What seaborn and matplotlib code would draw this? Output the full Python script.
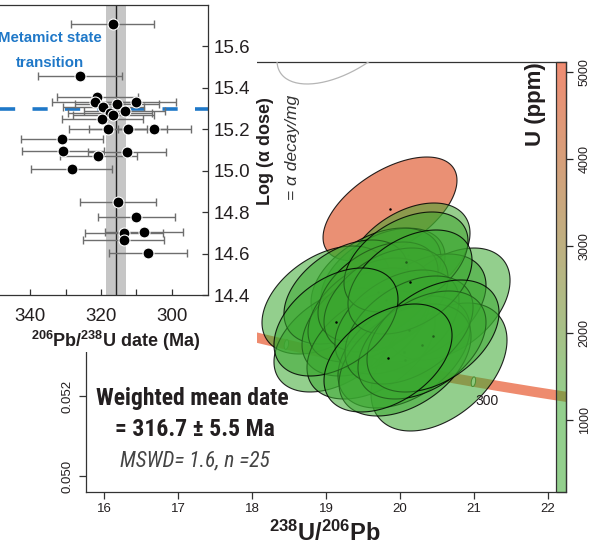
import numpy as np
import pandas as pd
import matplotlib
matplotlib.use("Agg")
import matplotlib.pyplot as plt
import seaborn as sns
from matplotlib.colors import LinearSegmentedColormap, Normalize
from matplotlib.cm import ScalarMappable
from matplotlib.patches import Rectangle
from matplotlib import font_manager

# ---------------- data: inset (206Pb/238U date vs log alpha dose) ----------------
inset_date = [316.7, 326.0, 321.0, 321.8, 310.2, 315.5, 319.3, 317.5, 313.3, 319.6,
              318.1, 312.4, 305.0, 331.0, 330.7, 312.6, 320.7, 328.3, 315.2, 310.0,
              313.6, 307.8, 313.6, 306.7, 316.5]
inset_dose = [15.71, 15.455, 15.356, 15.333, 15.333, 15.324, 15.308, 15.28, 15.29, 15.25,
              15.20, 15.20, 15.20, 15.155, 15.094, 15.09, 15.07, 15.006, 14.85, 14.778,
              14.70, 14.705, 14.665, 14.604, 15.27]
inset_err = [11.7, 11.9, 11.5, 12.0, 11.5, 11.8, 11.5, 11.8, 11.5, 11.5,
             11.0, 11.0, 10.3, 11.5, 11.5, 11.0, 11.0, 11.5, 10.7, 10.8,
             11.0, 11.0, 11.5, 11.0, 11.5]
mean_date = 315.8
mean_band = 2.9
transition_dose = 15.3
inset_xticks = [340, 330, 320, 310, 300]
inset_xticklabels = ["340", "", "320", "", "300"]
inset_yticks = [14.4, 14.6, 14.8, 15.0, 15.2, 15.4, 15.6]

# ---------------- data: Tera-Wasserburg ellipses ----------------
ell_x = [19.865, 20.108, 19.770, 19.676, 20.649, 20.284, 19.000, 19.135, 20.527, 19.270,
         19.541, 19.595, 19.608, 19.703, 19.811, 19.959, 20.054, 20.068, 20.081, 20.122,
         20.135, 20.297, 20.446, 19.135, 19.838]
ell_y = [0.056675, 0.055525, 0.054975, 0.054900, 0.054300, 0.054200, 0.054400, 0.053400,
         0.052725, 0.054600, 0.053850, 0.054150, 0.053275, 0.054600, 0.054400, 0.053850,
         0.053100, 0.052900, 0.055350, 0.053650, 0.054850, 0.053275, 0.053500, 0.053850,
         0.052950]
ell_sx = [0.905, 0.838, 0.838, 0.878, 0.838, 0.878, 0.865, 0.838, 0.919, 0.838,
          0.865, 0.838, 0.865, 0.811, 0.838, 0.838, 0.892, 0.892, 0.838, 0.865,
          0.838, 0.865, 0.892, 0.838, 0.865]
ell_sy = [0.00130, 0.00130, 0.00122, 0.00130, 0.00140, 0.00135, 0.00135, 0.00130,
          0.00160, 0.00130, 0.00135, 0.00130, 0.00135, 0.00125, 0.00130, 0.00130,
          0.00140, 0.00140, 0.00125, 0.00135, 0.00130, 0.00135, 0.00140, 0.00135,
          0.00135]
ell_rho = [0.55] + [0.42] * 24
ell_u = [4850, 1300, 1100, 1200, 600, 900, 700, 800, 350, 1000,
         1100, 1200, 900, 1400, 1200, 1000, 700, 600, 1300, 900,
         1100, 800, 600, 800, 700]
# omitted analysis (unfilled, grey)
omit_x, omit_y, omit_sx, omit_sy, omit_rho = 19.243, 0.0611, 0.905, 0.00130, 0.55

u_min, u_max = 176, 5115
cbar_ticks = [1000, 2000, 3000, 4000, 5000]
main_xticks = [16, 17, 18, 19, 20, 21, 22]
main_yticks = [0.050, 0.052]

# concordia (decay constants)
LAMBDA238 = 1.55125e-10
LAMBDA235 = 9.8485e-10
U238_U235 = 137.818
conc_ages_ma = np.arange(260, 391, 1.0)
marker_ages_ma = [300, 320, 340]
labelled_age = 300

# ---------------- fonts ----------------
sns.set_theme(style="ticks")
available = {f.name for f in font_manager.fontManager.ttflist}


def pick(*names):
    for n in names:
        if n in available:
            return n
    return "DejaVu Sans"


SANS = pick("Liberation Sans", "Arimo", "DejaVu Sans")
NARROW = pick("Liberation Sans Narrow", "Roboto Condensed", "Open Sans Condensed")
narrow_scale = 1.0
if NARROW == "DejaVu Sans":
    NARROW = SANS
    narrow_scale = 0.80
plt.rcParams["font.family"] = [SANS, "DejaVu Sans"]
plt.rcParams["mathtext.fontset"] = "custom"
plt.rcParams["mathtext.rm"] = SANS
plt.rcParams["mathtext.bf"] = SANS + ":bold"
plt.rcParams["mathtext.it"] = SANS + ":italic"
TXT = "#231f20"

W, H = 603, 549
fig = plt.figure(figsize=(W / 100, H / 100), dpi=100)
fig.patch.set_facecolor("white")


def box(x0, y0, x1, y1):
    return [x0 / W, 1 - y1 / H, (x1 - x0) / W, (y1 - y0) / H]


def ellipse_xy(x0, y0, sx, sy, rho, n=160):
    t = np.linspace(0, 2 * np.pi, n)
    return x0 + sx * np.cos(t), y0 + sy * (rho * np.cos(t) + np.sqrt(1 - rho ** 2) * np.sin(t))


# colour map (with transparency): green at low U, salmon at high U
c_lo = (58 / 255, 168 / 255, 48 / 255, 0.55)
c_hi = (228 / 255, 46 / 255, 0 / 255, 0.55)
cmap = LinearSegmentedColormap.from_list("u_ppm", [(0.0, c_lo), (0.2, c_lo), (1.0, c_hi)])
norm = Normalize(vmin=u_min, vmax=u_max)

# ---------------- main concordia axes ----------------
ax = fig.add_axes(box(86, 62, 566, 491.7))
ax.set_facecolor("white")
ax.set_xlim(15.757, 22.243)
ax.set_ylim(0.0496075, 0.06035)

t = conc_ages_ma * 1e6
conc = pd.DataFrame({
    "x": 1.0 / (np.exp(LAMBDA238 * t) - 1.0),
    "y": (np.exp(LAMBDA235 * t) - 1.0) / (np.exp(LAMBDA238 * t) - 1.0) / U238_U235,
})
sns.lineplot(data=conc, x="x", y="y", ax=ax, color="#ee8b6e", lw=7.3, sort=False,
             solid_capstyle="butt", zorder=2, legend=False)

for age in marker_ages_ma:
    tt = age * 1e6
    mx = 1.0 / (np.exp(LAMBDA238 * tt) - 1.0)
    my = (np.exp(LAMBDA235 * tt) - 1.0) / (np.exp(LAMBDA238 * tt) - 1.0) / U238_U235
    ex, ey = ellipse_xy(mx, my, 0.03, 0.00012, 0.3)
    ax.fill(ex, ey, facecolor="#f4f1dc", edgecolor="#5a6b35", lw=0.7, zorder=2.5)
    if age == labelled_age:
        ax.annotate(str(age), (mx, my), xytext=(10, -14), textcoords="offset points",
                    ha="center", va="center", fontsize=10, color=TXT, zorder=20)

# omitted ellipse
ex, ey = ellipse_xy(omit_x, omit_y, omit_sx, omit_sy, omit_rho)
ax.plot(ex, ey, color="#b5b5b5", lw=0.9, zorder=2.6)

for i in range(len(ell_x)):
    ex, ey = ellipse_xy(ell_x[i], ell_y[i], ell_sx[i], ell_sy[i], ell_rho[i])
    ax.fill(ex, ey, facecolor=cmap(norm(ell_u[i])), edgecolor=(0, 0, 0, 0.85),
            lw=0.8, zorder=3 + i * 0.01)
    ax.plot([ell_x[i]], [ell_y[i]], "o", ms=1.8, color="black", mew=0, zorder=3 + i * 0.01 + 0.005)

ax.set_xticks(main_xticks)
ax.set_xticklabels([str(v) for v in main_xticks])
ax.set_yticks(main_yticks)
ax.set_yticklabels([f"{v:.3f}" for v in main_yticks], rotation=90, ha="center", va="center")
ax.tick_params(axis="both", direction="out", length=5, width=0.9, color="#333333",
               labelsize=9.5, labelcolor=TXT)
ax.tick_params(axis="x", pad=3)
ax.tick_params(axis="y", pad=8.5)
for sp in ax.spines.values():
    sp.set_color("#333333")
    sp.set_linewidth(0.9)
ax.set_xlabel("")
ax.set_ylabel("")

# colorbar inside right edge of main axes
cax = fig.add_axes(box(556, 62, 566, 491.7))
cax.patch.set_alpha(0)
cb = fig.colorbar(ScalarMappable(norm=norm, cmap=cmap), cax=cax)
cb.outline.set_edgecolor("#333333")
cb.outline.set_linewidth(0.9)
cb.set_ticks(cbar_ticks)
cax.set_yticklabels([str(v) for v in cbar_ticks], rotation=90, ha="center", va="center")
cax.tick_params(axis="y", direction="out", length=5, width=0.9, labelsize=9,
                pad=8.5, labelcolor=TXT)

# ---------------- white cover for inset ----------------
fig.patches.append(Rectangle((0, 1 - 352 / H), 257 / W, 352 / H, transform=fig.transFigure,
                             facecolor="white", edgecolor="none", zorder=1))

# ---------------- inset axes ----------------
ax2 = fig.add_axes(box(0, 5, 208.3, 295), zorder=2)
ax2.set_facecolor("none")
ax2.set_xlim(348.5, 289.7)
ax2.set_ylim(14.4, 15.8)
ax2.axvspan(mean_date - mean_band, mean_date + mean_band, color="#c6c6c6", lw=0, zorder=1)
ax2.axvline(mean_date, color="#222222", lw=1.0, zorder=2)
ax2.axhline(transition_dose, color="#1f78c8", lw=2.6, dashes=(4.2, 4.8), zorder=2.5)
ax2.errorbar(inset_date, inset_dose, xerr=inset_err, fmt="none", ecolor="#6e6e6e",
             elinewidth=1.0, capsize=3, capthick=1.0, zorder=3)
idf = pd.DataFrame({"date": inset_date, "dose": inset_dose})
sns.scatterplot(data=idf, x="date", y="dose", ax=ax2, s=62, color="black",
                edgecolor="white", linewidth=0.8, zorder=4, legend=False)
ax2.set_xlabel("")
ax2.set_ylabel("")
ax2.set_xticks(inset_xticks)
ax2.set_xticklabels(inset_xticklabels)
ax2.set_yticks(inset_yticks)
ax2.set_yticklabels([f"{v:.1f}" for v in inset_yticks])
ax2.yaxis.tick_right()
ax2.tick_params(axis="both", direction="in", length=4, width=0.9, color="#333333",
                labelsize=13.5, labelcolor=TXT)
ax2.tick_params(axis="x", pad=9.5)
ax2.tick_params(axis="y", pad=4)
ax2.spines["left"].set_visible(False)
for s in ["top", "right", "bottom"]:
    ax2.spines[s].set_color("#333333")
    ax2.spines[s].set_linewidth(0.9)

# ---------------- texts ----------------
fig.text(50 / W, 1 - 38 / H, "Metamict state", ha="center", va="center", color="#1f78c8",
         fontsize=10.8, fontweight="bold")
fig.text(50 / W, 1 - 63 / H, "transition", ha="center", va="center", color="#1f78c8",
         fontsize=10.8, fontweight="bold")
fig.text(116 / W, 1 - 341 / H, r"$\mathbf{^{206}Pb/^{238}U\ date\ (Ma)}$", ha="center",
         va="center", fontsize=13, color=TXT)
fig.text(325 / W, 1 - 533 / H, r"$\mathbf{^{238}U/^{206}Pb}$", ha="center", va="center",
         fontsize=17, color=TXT)
fig.text(265 / W, 1 - 151 / H, "Log (α dose)", rotation=90, ha="center", va="center",
         fontsize=13, fontweight="bold", color=TXT)
fig.text(293 / W, 1 - 147 / H, "= α decay/mg", rotation=90, ha="center", va="center",
         fontsize=12.5, style="italic", color="#333333")
fig.text(535 / W, 1 - 104 / H, "U (ppm)", rotation=90, ha="center", va="center",
         fontsize=16, fontweight="bold", color=TXT)
fig.text(192 / W, 1 - 399 / H, "Weighted mean date", ha="center", va="center",
         fontsize=17 * narrow_scale, fontweight="bold", family=[NARROW, "DejaVu Sans"], color=TXT)
fig.text(195 / W, 1 - 429 / H, "= 316.7 ± 5.5 Ma", ha="center", va="center",
         fontsize=17 * narrow_scale, fontweight="bold", family=[NARROW, "DejaVu Sans"], color=TXT)
fig.text(195 / W, 1 - 461 / H, "MSWD= 1.6, n =25", ha="center", va="center",
         fontsize=15.5 * narrow_scale, style="italic", family=[NARROW, "DejaVu Sans"], color="#444444")

fig.savefig("out.png", dpi=100, facecolor="white")
